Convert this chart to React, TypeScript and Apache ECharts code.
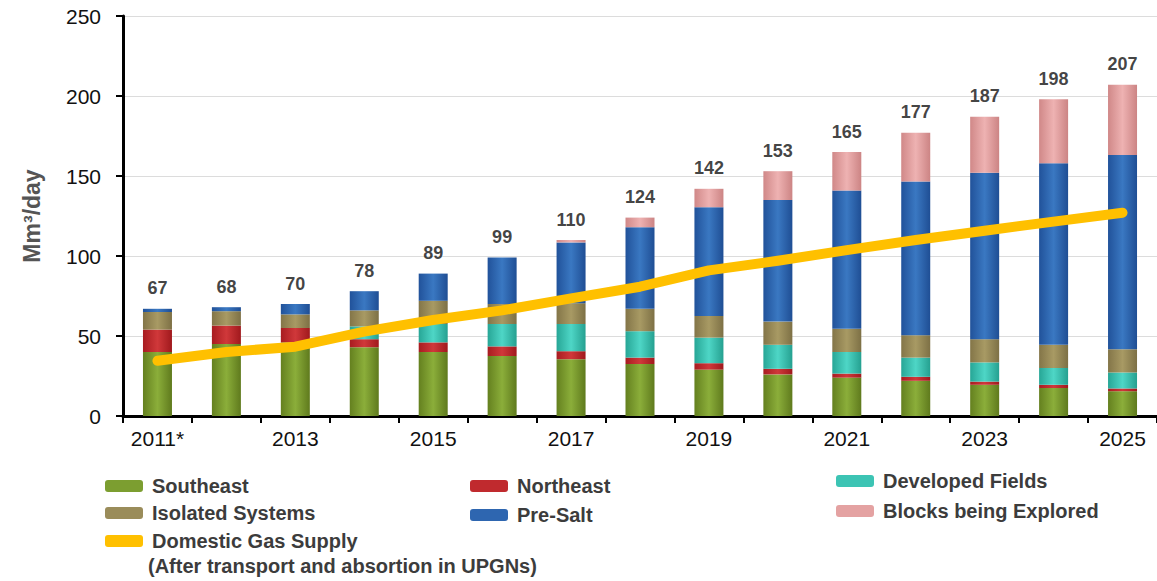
import React, { useEffect, useRef } from "react";
import * as echarts from "echarts";

const years = ["2011*", "2012", "2013", "2014", "2015", "2016", "2017", "2018", "2019", "2020", "2021", "2022", "2023", "2024", "2025"];
const southeast = [40, 45, 46, 43, 40, 37.5, 35.5, 32.5, 29, 26, 24, 22, 19.5, 17.5, 15.5];
const northeast = [14, 11.5, 9, 5, 6, 6, 5, 4, 4, 3.5, 2.5, 2.5, 2, 2, 1.7];
const developedFields = [0, 0, 0, 8, 11.5, 14, 17, 16.5, 16, 15, 13.5, 12, 12, 10.5, 10];
const isolatedSystems = [11, 9, 8.5, 10, 14.5, 12.5, 13, 14, 13.5, 14.5, 14.5, 14, 14.5, 14.5, 14.5];
const preSalt = [2, 2.5, 6.5, 12, 17, 29, 38, 51, 68, 76, 86.5, 96, 104, 113.5, 121.5];
const blocksExplored = [0, 0, 0, 0, 0, 0, 1.5, 6, 11.5, 18, 24, 30.5, 35, 40, 43.8];
const totals = [67, 68, 70, 78, 89, 99, 110, 124, 142, 153, 165, 177, 187, 198, 207];
const domesticSupply = [34.5, 40, 43.3, 52.7, 60, 66, 73.5, 80.8, 91, 97, 103.7, 110, 115.8, 121.5, 127];
const yTicks = [0, 50, 100, 150, 200, 250];

const FONT = "'Liberation Sans', Arial, sans-serif";

function grad(edge: string, mid: string, edge2: string) {
  return {
    type: "linear",
    x: 0,
    y: 0,
    x2: 1,
    y2: 0,
    colorStops: [
      { offset: 0, color: edge },
      { offset: 0.5, color: mid },
      { offset: 1, color: edge2 },
    ],
  };
}

const COLORS: Record<string, any> = {
  Southeast: grad("#64801f", "#8bae3a", "#5f7a1d"),
  Northeast: grad("#a81c20", "#d0383a", "#a0191d"),
  "Developed Fields": grad("#27a696", "#4ed6c6", "#25a090"),
  "Isolated Systems": grad("#837548", "#a89a64", "#7d7045"),
  "Pre-Salt": grad("#21529a", "#3a78c2", "#1f4e94"),
  "Blocks being Explored": grad("#d08888", "#eeb2b2", "#cc8484"),
};
const FLAT: Record<string, string> = {
  Southeast: "#7c9e30",
  Northeast: "#c02a2e",
  "Developed Fields": "#3cc4b4",
  "Isolated Systems": "#9a8c5a",
  "Pre-Salt": "#2e66b0",
  "Blocks being Explored": "#e4a2a2",
};

export default function App() {
  const ref = useRef<HTMLDivElement>(null);
  useEffect(() => {
    document.body.style.margin = "0";
    const chart = echarts.init(ref.current!, undefined, { renderer: "svg" });
    const stackSeries: [string, number[]][] = [
      ["Southeast", southeast],
      ["Northeast", northeast],
      ["Developed Fields", developedFields],
      ["Isolated Systems", isolatedSystems],
      ["Pre-Salt", preSalt],
      ["Blocks being Explored", blocksExplored],
    ];
    const legendText = { fontFamily: FONT, fontSize: 20, fontWeight: "bold", color: "#3c3c3c", padding: [0, 0, 0, 4] };
    const mkLegend = (name: string, left: number, top: number, extra: any = {}) => ({
      show: true,
      left,
      top,
      padding: 0,
      itemWidth: 38,
      itemHeight: 12,
      selectedMode: false,
      textStyle: legendText,
      data: [{ name, itemStyle: { color: FLAT[name] || "#FFC000", borderWidth: 0 }, ...extra }],
    });
    const option: any = {
      animation: false,
      backgroundColor: "#ffffff",
      grid: { left: 123, right: -16, top: 16, bottom: 165, containLabel: false },
      xAxis: {
        type: "category",
        data: years,
        boundaryGap: true,
        axisLine: { show: true, lineStyle: { color: "#000", width: 3 } },
        axisTick: { show: true, interval: 0, length: 7, lineStyle: { color: "#000", width: 2 } },
        axisLabel: {
          interval: 1,
          margin: 12,
          fontFamily: FONT,
          fontSize: 21,
          color: "#111",
        },
      },
      yAxis: {
        type: "value",
        min: 0,
        max: 250,
        interval: 50,
        name: "Mm³/day",
        nameLocation: "middle",
        nameRotate: 90,
        nameGap: 80,
        nameTextStyle: { fontFamily: FONT, fontSize: 23, fontWeight: "bold", color: "#555" },
        axisLine: { show: true, lineStyle: { color: "#000", width: 3 } },
        axisTick: { show: true, length: 7, lineStyle: { color: "#000", width: 2 } },
        axisLabel: {
          margin: 22,
          fontFamily: FONT,
          fontSize: 21,
          color: "#111",
          formatter: (v: number) => (yTicks.includes(v) ? String(v) : ""),
        },
        splitLine: { show: true, lineStyle: { color: "#dcdcdc", width: 1 } },
      },
      legend: [
        mkLegend("Southeast", 105, 476),
        mkLegend("Isolated Systems", 105, 503),
        mkLegend("Domestic Gas Supply", 105, 531, { icon: "roundRect" }),
        mkLegend("Northeast", 470, 476),
        mkLegend("Pre-Salt", 470, 505),
        mkLegend("Developed Fields", 836, 471),
        mkLegend("Blocks being Explored", 836, 501),
      ],
      graphic: [
        {
          type: "text",
          left: 148,
          top: 556,
          style: {
            text: "(After transport and absortion in UPGNs)",
            fontFamily: FONT,
            fontSize: 20,
            fontWeight: "bold",
            fill: "#3c3c3c",
          },
        },
      ],
      series: [
        ...stackSeries.map(([name, data]) => ({
          name,
          type: "bar",
          stack: "total",
          barWidth: 29,
          data,
          itemStyle: { color: COLORS[name] },
          emphasis: { disabled: true },
        })),
        {
          name: "Domestic Gas Supply",
          type: "line",
          data: domesticSupply,
          symbol: "none",
          z: 5,
          lineStyle: { color: "#FFC000", width: 10, cap: "round", join: "round" },
          itemStyle: { color: "#FFC000" },
        },
        {
          name: "totals",
          type: "scatter",
          data: totals,
          symbolSize: 1,
          itemStyle: { color: "rgba(0,0,0,0)" },
          label: {
            show: true,
            position: "top",
            distance: 11,
            fontFamily: FONT,
            fontSize: 18,
            fontWeight: "bold",
            color: "#111",
            formatter: (p: any) => String(totals[p.dataIndex]),
          },
          z: 6,
        },
      ],
    };
    chart.setOption(option);
    return () => chart.dispose();
  }, []);
  return <div ref={ref} style={{ width: 1157, height: 581 }} />;
}
